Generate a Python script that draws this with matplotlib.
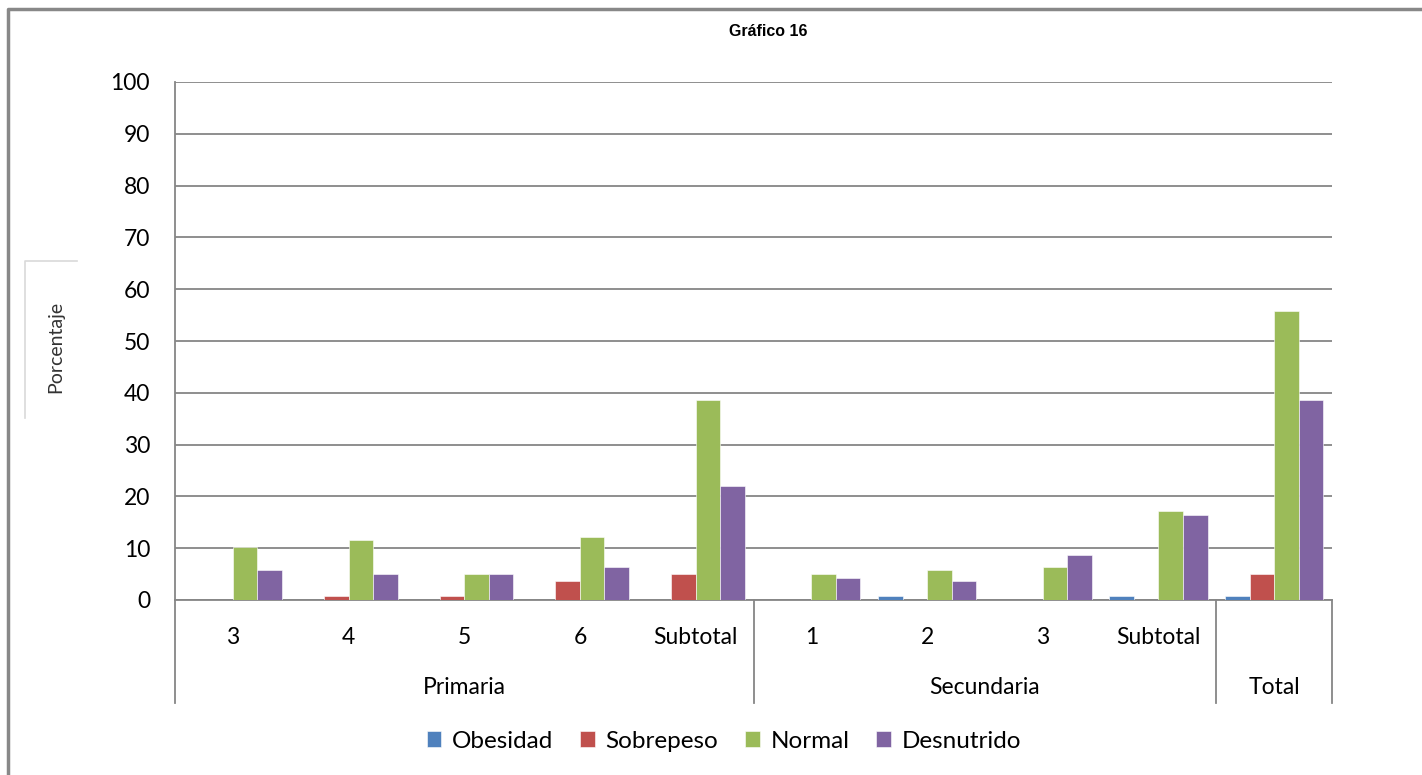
import matplotlib.pyplot as plt
from matplotlib.lines import Line2D
import matplotlib.transforms as mtransforms
import numpy as np

plt.rcParams['font.family'] = ['Lato', 'DejaVu Sans']

# === datos ===
categorias = ['3', '4', '5', '6', 'Subtotal', '1', '2', '3', 'Subtotal', '']
grupos = ['Primaria', 'Secundaria', 'Total']
grupo_tamanos = [5, 4, 1]
series = ['Obesidad', 'Sobrepeso', 'Normal', 'Desnutrido']
obesidad = [0, 0, 0, 0, 0, 0, 0.7, 0, 0.7, 0.7]
sobrepeso = [0, 0.7, 0.7, 3.6, 5.0, 0, 0, 0, 0, 5.0]
normal = [10.2, 11.5, 5.0, 12.2, 38.6, 5.0, 5.7, 6.4, 17.1, 55.7]
desnutrido = [5.8, 5.0, 5.0, 6.4, 22.1, 4.3, 3.6, 8.6, 16.4, 38.6]
colores = ['#4F81BD', '#C0504D', '#9BBB59', '#8064A2']

W, H = 1422, 775
fs = 16.5
fig = plt.figure(figsize=(W / 100, H / 100), dpi=100)
ax = fig.add_axes([175 / W, 1 - 600 / H, (1332 - 175) / W, (600 - 82) / H])

x = np.arange(len(categorias))
w = 0.212
datos = [obesidad, sobrepeso, normal, desnutrido]
barras = []
for i, (vals, c, nombre) in enumerate(zip(datos, colores, series)):
    b = ax.bar(x + (i - 1.5) * w, vals, width=w, color=c, edgecolor='white',
               linewidth=0.4, label=nombre, zorder=3)
    barras.append(b)

ax.set_xlim(-0.5, len(categorias) - 0.5)
ax.set_ylim(0, 100)
ax.set_yticks(range(0, 101, 10))
ax.tick_params(axis='y', length=0, labelsize=fs, pad=18)
ax.tick_params(axis='x', length=0, labelbottom=False)
ax.grid(axis='y', color='#868686', linewidth=1.3, zorder=0)
for s in ['top', 'right']:
    ax.spines[s].set_visible(False)
ax.spines['left'].set_color('#868686')
ax.spines['left'].set_linewidth(1.3)
ax.spines['bottom'].set_color('#868686')
ax.spines['bottom'].set_linewidth(1.3)

# === eje de categorias en dos niveles ===
trans = mtransforms.blended_transform_factory(ax.transData, ax.transAxes)
y_fondo = -(703 - 600) / (600 - 82)
for xi, etiqueta in zip(x, categorias):
    ax.text(xi, -38 / 518, etiqueta, transform=trans, ha='center', va='center',
            fontsize=fs)
inicio = 0
bordes = [-0.5]
for g, n in zip(grupos, grupo_tamanos):
    centro = inicio + (n - 1) / 2
    ax.text(centro, -87 / 518, g, transform=trans, ha='center', va='center',
            fontsize=fs)
    inicio += n
    bordes.append(inicio - 0.5)
for bx in bordes:
    ax.plot([bx, bx], [0, y_fondo], transform=trans, color='#868686',
            linewidth=1.3, clip_on=False)

# === titulo, eje y, leyenda ===
fig.text(768 / W, 1 - 32 / H, 'Gráfico 16', ha='center', va='center',
         fontsize=11.5, fontweight='bold', family=['Liberation Sans', 'DejaVu Sans'])
fig.text(56 / W, 1 - 347 / H, 'Porcentaje', rotation=90, ha='center',
         va='center', fontsize=14, color='#333333')
fig.add_artist(Line2D([25 / W, 25 / W, 77 / W], [1 - 418 / H, 1 - 261 / H, 1 - 261 / H],
                      color='#d9d9d9', linewidth=1.2))

fig.legend(handles=barras, labels=series, loc='center', ncol=4,
           bbox_to_anchor=(724 / W, 1 - 741 / H), frameon=False, fontsize=17.5,
           handlelength=0.6, handleheight=0.6, handletextpad=0.45,
           columnspacing=1.1)

# === marco exterior ===
fig.add_artist(Line2D([8 / W, 8 / W, 1.0], [0, 1 - 9 / H, 1 - 9 / H],
                      color='#888888', linewidth=2.5))

fig.savefig('out.png', dpi=100)
